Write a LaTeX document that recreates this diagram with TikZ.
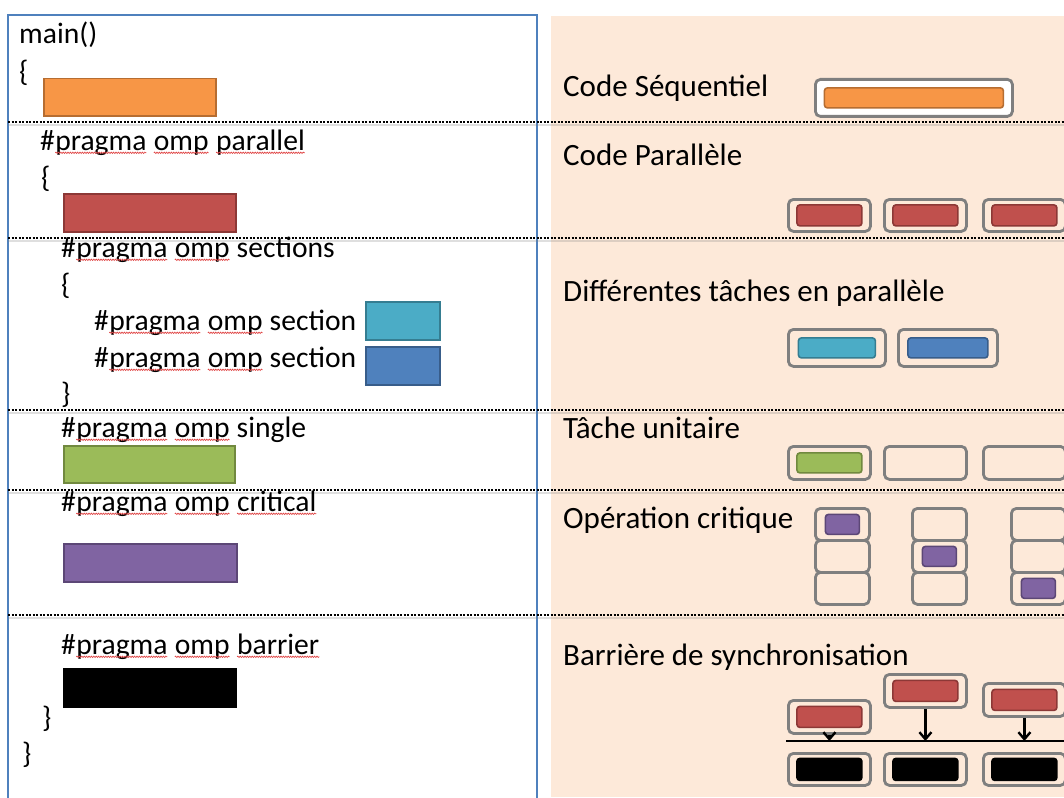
\documentclass[tikz,border=0pt]{standalone}
\usepackage{fontspec}
\setmainfont{Carlito}
\usetikzlibrary{arrows.meta,decorations.pathmorphing}
\definecolor{cPeach}{HTML}{FDE9D9}
\definecolor{cFrame}{HTML}{4F81BD}
\definecolor{cGray}{HTML}{7F7F7F}
\definecolor{cOr}{HTML}{F79646}\definecolor{cOrD}{HTML}{B66D31}
\definecolor{cRed}{HTML}{C0504D}\definecolor{cRedD}{HTML}{8C3836}
\definecolor{cCy}{HTML}{4BACC6}\definecolor{cCyD}{HTML}{357D91}
\definecolor{cBl}{HTML}{4F81BD}\definecolor{cBlD}{HTML}{385D8A}
\definecolor{cGr}{HTML}{9BBB59}\definecolor{cGrD}{HTML}{71893F}
\definecolor{cPu}{HTML}{8064A2}\definecolor{cPuD}{HTML}{5C4776}
\definecolor{cBk}{HTML}{000000}\definecolor{cBkD}{HTML}{000000}
\definecolor{cSquig}{HTML}{E04848}
\newcommand\sqw[1]{\tikz[baseline=(sqword.base)]{\node[draw=none,fill=none,inner sep=0pt,outer sep=0pt,anchor=base west,minimum width=0pt,minimum height=0pt](sqword) at (0,0){#1};\draw[cSquig,line width=0.7pt,decorate,decoration={snake,amplitude=0.7pt,segment length=2.4pt}] ([yshift=-2.8pt]sqword.base west) -- ([yshift=-2.8pt]sqword.base east);}}
\tikzset{
  code/.style={anchor=base west, inner sep=0pt, font=\fontsize{29.6}{35}\selectfont},
  lbl/.style={anchor=base west, inner sep=0pt, font=\fontsize{31}{37}\selectfont},
  cbox/.style={draw=#1D, fill=#1, line width=1.5pt, inner sep=0pt, anchor=north west},
  obox/.style={draw=cGray, line width=2.8pt, rounded corners=5pt, inner sep=0pt, anchor=north west},
  ibox/.style={draw=#1D, fill=#1, line width=1.6pt, rounded corners=3pt, inner sep=0pt, minimum width=65pt, minimum height=21pt},
  sep/.style={line width=2.2pt, dash pattern=on 2pt off 1.5pt},
  sepshadow/.style={line width=2pt, gray, opacity=0.25},
  sync/.style={line width=2.4pt, -{Straight Barb[length=7pt,width=12pt,line width=2.4pt]}}
}
\begin{document}
\begin{tikzpicture}[x=1pt,y=-1pt]
\useasboundingbox (0,0) rectangle (1064,797);
% right panel
\fill[cPeach] (551,16) rectangle (1064,797);
% left frame
\draw[cFrame, line width=2pt] (8,805) -- (8,15) -- (537,15) -- (537,805);
% separators
\foreach \yy in {122,238,410,490,615}{
  \draw[sepshadow] (8,\yy+2.5) -- (1064,\yy+2.5);
  \draw[sep] (8,\yy) -- (1064,\yy);
}
% ---------- left code ----------
\node[code] (main) at (19,44) {main()};
\node[code] (ob1) at (19,82) {\{};
\node[cbox=cOr, minimum width=172pt, minimum height=37pt] (seq) at (43,78) {};
\node[code] (par) at (40,150) {\#\sqw{pragma} \sqw{omp} \sqw{parallel}};
\node[code] (ob2) at (41,187) {\{};
\node[cbox=cRed, minimum width=172pt, minimum height=38pt] (parb) at (63,193) {};
\node[code] (secs) at (61,257) {\#\sqw{pragma} \sqw{omp} sections};
\node[code] (ob3) at (61,294) {\{};
\node[code] (sec1) at (94,330) {\#\sqw{pragma} \sqw{omp} section};
\node[cbox=cCy, minimum width=74pt, minimum height=38pt] (sec1b) at (365,301) {};
\node[code] (sec2) at (94,367) {\#\sqw{pragma} \sqw{omp} section};
\node[cbox=cBl, minimum width=74pt, minimum height=38pt] (sec2b) at (365,346) {};
\node[code] (cb3) at (61,403) {\}};
\node[code] (sgl) at (61,437) {\#\sqw{pragma} \sqw{omp} single};
\node[cbox=cGr, minimum width=171pt, minimum height=37pt] (sglb) at (63,445) {};
\node[code] (crit) at (61,511) {\#\sqw{pragma} \sqw{omp} \sqw{critical}};
\node[cbox=cPu, minimum width=173pt, minimum height=38pt] (critb) at (63,543) {};
\node[code] (bar) at (61,654) {\#\sqw{pragma} \sqw{omp} \sqw{barrier}};
\node[cbox=cBk, minimum width=172pt, minimum height=38pt] (barb) at (63,668) {};
\node[code] (cb2) at (42,727) {\}};
\node[code] (cb1) at (22,763) {\}};
% ---------- right labels ----------
\node[lbl] (lseq) at (563,97) {Code Séquentiel};
\node[lbl] (lpar) at (563,165) {Code Parallèle};
\node[lbl] (lsec) at (563,301) {Différentes tâches en parallèle};
\node[lbl] (lsgl) at (563,438) {Tâche unitaire};
\node[lbl] (lcrit) at (563,528) {Opération critique};
\node[lbl] (lbar) at (563,665) {Barrière de synchronisation};
% sequential
\node[obox, fill=white, minimum width=197pt, minimum height=37pt] (so) at (814,78) {};
\node[ibox=cOr, minimum width=179pt, minimum height=20pt] (si) at (so.center) {};
% parallel
\foreach \xx/\nm in {787/p1,883/p2,982/p3}{
  \node[obox, minimum width=82pt, minimum height=32pt] (\nm) at (\xx,198) {};
  \node[ibox=cRed] (\nm i) at (\nm.center) {};
}
% sections
\node[obox, minimum width=97pt, minimum height=37pt] (s1) at (787,328) {};
\node[ibox=cCy, minimum width=77pt, minimum height=20pt] (s1i) at (s1.center) {};
\node[obox, minimum width=99pt, minimum height=37pt] (s2) at (897,328) {};
\node[ibox=cBl, minimum width=80pt, minimum height=20pt] (s2i) at (s2.center) {};
% single
\node[obox, minimum width=82pt, minimum height=33pt] (u1) at (787,445) {};
\node[ibox=cGr, minimum height=20pt] (u1i) at (u1.center) {};
\node[obox, minimum width=82pt, minimum height=33pt] (u2) at (883,445) {};
\node[obox, minimum width=82pt, minimum height=33pt] (u3) at (982,445) {};
% critical
\foreach \xx/\cc in {814/a,911/b,1010/c}{
  \foreach \yy/\rr in {507/1,539/2,571/3}{
    \node[obox, minimum width=54pt, minimum height=32pt] (c\cc\rr) at (\xx,\yy) {};
  }
}
\node[ibox=cPu, minimum width=34pt, minimum height=20pt] (pa) at (ca1.center) {};
\node[ibox=cPu, minimum width=34pt, minimum height=20pt] (pb) at (cb2.center) {};
\node[ibox=cPu, minimum width=34pt, minimum height=20pt] (pc) at (cc3.center) {};
% barrier
\node[obox, minimum width=82pt, minimum height=33pt] (b1) at (787,699) {};
\node[ibox=cRed] (b1i) at (b1.center) {};
\node[obox, minimum width=82pt, minimum height=33pt] (b2) at (883,673) {};
\node[ibox=cRed] (b2i) at (b2.center) {};
\node[obox, minimum width=82pt, minimum height=33pt] (b3) at (982,682) {};
\node[ibox=cRed] (b3i) at (b3.center) {};
\coordinate (bl) at (786,741);
\coordinate (br) at (1066,741);
\draw[line width=2.6pt] (bl) -- (br);
\draw[sync] (b1.south) -- (b1.south |- bl);
\draw[sync] (b2.south) -- (b2.south |- bl);
\draw[sync] (b3.south) -- (b3.south |- bl);
\foreach \xx/\nm in {787/k1,883/k2,982/k3}{
  \node[obox, minimum width=82pt, minimum height=32pt] (\nm) at (\xx,752) {};
  \node[ibox=cBk, minimum height=22pt] (\nm i) at (\nm.center) {};
}
\end{tikzpicture}
\end{document}
